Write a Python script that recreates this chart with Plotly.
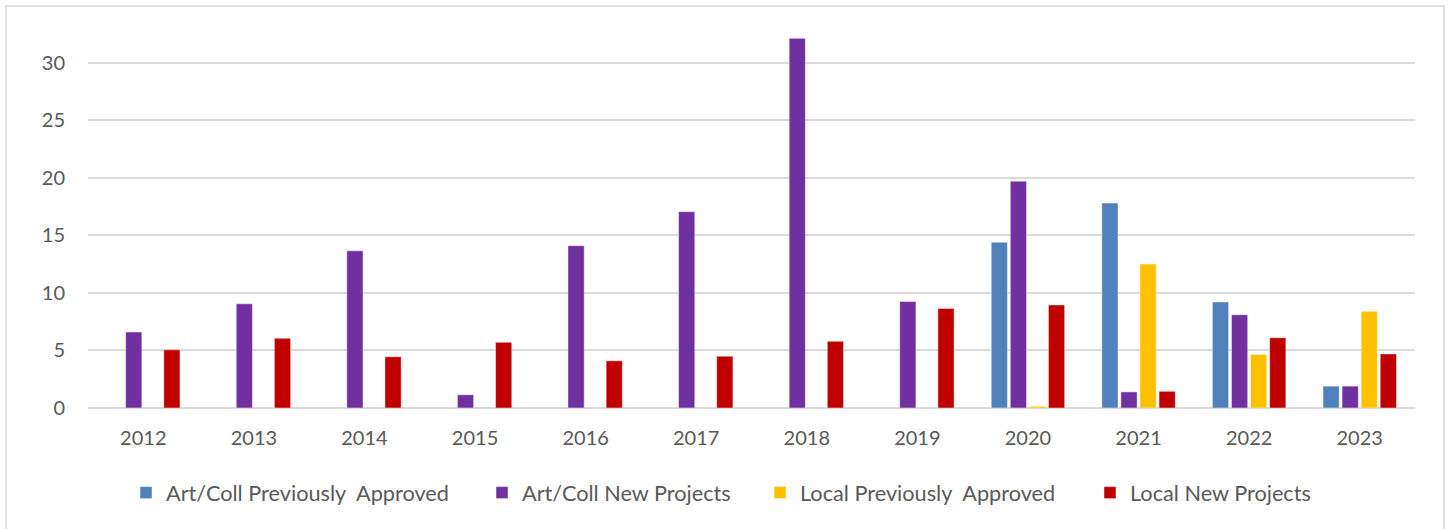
import plotly.graph_objects as go

years = ["2012", "2013", "2014", "2015", "2016", "2017", "2018", "2019", "2020", "2021", "2022", "2023"]
artcoll_prev = [None, None, None, None, None, None, None, None, 14.4, 17.8, 9.2, 1.9]
artcoll_new = [6.6, 9.05, 13.65, 1.15, 14.1, 17.05, 32.1, 9.25, 19.7, 1.4, 8.1, 1.9]
local_prev = [None, None, None, None, None, None, None, None, 0.15, 12.5, 4.65, 8.4]
local_new = [5.05, 6.05, 4.45, 5.7, 4.1, 4.5, 5.8, 8.65, 8.95, 1.45, 6.1, 4.7]

series = [
    ("Art/Coll Previously\u00a0 Approved", artcoll_prev, "#4f81bd"),
    ("Art/Coll New Projects", artcoll_new, "#7030a0"),
    ("Local Previously\u00a0 Approved", local_prev, "#ffc000"),
    ("Local New Projects", local_new, "#c00000"),
]

W, H = 1449, 529
L, R, T, B = 88, 34, 28, 121
plot_w = W - L - R
plot_h = H - T - B


def px_x(p):
    return (p - L) / plot_w


def px_y(p):
    return (H - B - p) / plot_h


legend_text_x = [166, 522, 800, 1130]
legend_names = ["legend", "legend2", "legend3", "legend4"]

fig = go.Figure()
for (name, vals, col), lg in zip(series, legend_names):
    fig.add_trace(go.Bar(
        x=years, y=vals, name=name, legend=lg,
        marker=dict(color=col, line=dict(color="rgba(255,255,255,0.6)", width=0.75)),
    ))

legend_font = dict(size=21.7, color="#595959")
legend_layout = {}
for lg, tx in zip(legend_names, legend_text_x):
    legend_layout[lg] = dict(
        orientation="h", x=px_x(tx - 40), xanchor="left",
        y=px_y(493), yanchor="middle", font=legend_font,
        itemwidth=30, bgcolor="rgba(0,0,0,0)", borderwidth=0,
    )

fig.update_layout(
    width=W, height=H,
    margin=dict(l=L, r=R, t=T, b=B),
    paper_bgcolor="white", plot_bgcolor="white",
    barmode="group", bargap=0.31, bargroupgap=0.15,
    font=dict(family="Lato, 'Open Sans', sans-serif", size=20, color="#595959"),
    showlegend=True,
    xaxis=dict(showgrid=False, ticks="", showline=False, zeroline=False,
               ticklabelstandoff=16, tickfont=dict(size=20, color="#595959")),
    yaxis=dict(range=[0, 33], tickvals=[0, 5, 10, 15, 20, 25, 30],
               showgrid=True, gridcolor="#d9d9d9", gridwidth=1.5,
               zeroline=True, zerolinecolor="#d9d9d9", zerolinewidth=1.5,
               showline=False, ticks="", ticklabelstandoff=22,
               tickfont=dict(size=20, color="#595959")),
    shapes=[dict(type="rect", xref="paper", yref="paper",
                 x0=px_x(6), x1=px_x(1444), y0=px_y(540), y1=px_y(6),
                 line=dict(color="#d9d9d9", width=1.5), fillcolor="rgba(0,0,0,0)",
                 layer="below")],
    **legend_layout,
)

fig.write_html("out.html", config={"displayModeBar": False},
               post_script="document.body.style.margin='0';")
